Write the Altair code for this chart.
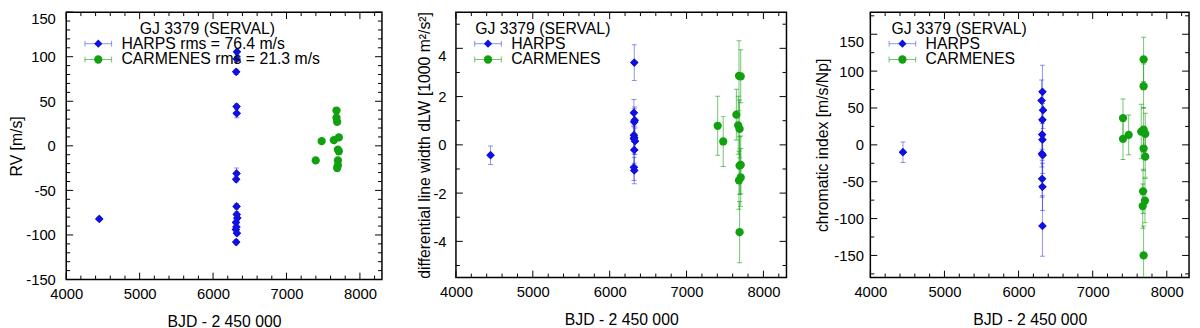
import altair as alt
import pandas as pd

FONT = "Liberation Sans"
BLUE = "#1010e0"
GREEN = "#10a010"

# ---------------- shared x axis ----------------
x_major = [4000, 5000, 6000, 7000, 8000]
x_minor = [4200, 4400, 4600, 4800, 5200, 5400, 5600, 5800, 6200, 6400, 6600, 6800,
           7200, 7400, 7600, 7800, 8200]
x_domain = [4000, 8300]
x_title = "BJD - 2 450 000"
legend_title = "GJ 3379 (SERVAL)"

# ---------------- panel 1: RV ----------------
rv_harps_t = [4450, 6325, 6322, 6315, 6320, 6322, 6320, 6315, 6320, 6322, 6330, 6312, 6318, 6310, 6325, 6315]
rv_harps_v = [-82, 105.5, 97.5, 83, 44, 36.5, -31, -37.5, -68, -77, -81, -86, -91, -94, -98, -108]
rv_harps_e = [2, 3, 3, 3, 3, 5, 6, 3, 3, 3, 3, 3, 3, 3, 3, 3]
rv_carm_t = [7398, 7479, 7681, 7681, 7690, 7646, 7713, 7700, 7713, 7700, 7700, 7690]
rv_carm_v = [-16.4, 5.3, 39.6, 31.6, 26.8, 6.4, 9.4, -4.2, -6.1, -16.4, -21.9, -24.9]
rv_carm_e = [2, 2, 2, 2, 2, 2, 2, 2, 2, 2, 2, 2]
rv_labels = ["HARPS rms = 76.4 m/s", "CARMENES rms = 21.3 m/s"]
rv_y_major = [-150, -100, -50, 0, 50, 100, 150]
rv_y_minor = [-140, -130, -120, -110, -90, -80, -70, -60, -40, -30, -20, -10,
              10, 20, 30, 40, 60, 70, 80, 90, 110, 120, 130, 140]

# ---------------- panel 2: dLW ----------------
dlw_harps_t = [4450, 6320, 6315, 6325, 6320, 6315, 6320, 6330, 6315, 6320, 6315, 6320]
dlw_harps_v = [-0.43, 3.41, 1.33, 1.02, 0.95, 0.40, 0.30, 0.15, 0.25, -0.21, -0.93, -1.06]
dlw_harps_e = [0.38, 0.74, 0.55, 0.55, 0.55, 0.55, 0.55, 0.55, 0.5, 0.55, 0.55, 0.55]
dlw_carm_t = [7405, 7477, 7648, 7682, 7705, 7672, 7690, 7690, 7705, 7705, 7682, 7690]
dlw_carm_v = [0.79, 0.14, 1.25, 2.86, 2.84, 0.81, 0.66, -0.86, -0.83, -1.35, -1.47, -3.62]
dlw_carm_e = [1.22, 1.04, 1.05, 1.45, 1.1, 1.2, 1.2, 1.2, 1.2, 1.2, 1.2, 1.27]
dlw_labels = ["HARPS", "CARMENES"]
dlw_y_major = [-4, -2, 0, 2, 4]
dlw_y_minor = [-5, -3, -1, 1, 3, 5]

# ---------------- panel 3: chromatic index ----------------
crx_harps_t = [4440, 6322, 6310, 6330, 6322, 6318, 6322, 6315, 6325, 6318, 6322, 6322]
crx_harps_v = [-10, 72, 60, 47, 34, 14, 7, -12, -14, -46, -57, -110]
crx_harps_e = [14, 36, 28, 25, 22, 20, 22, 18, 25, 25, 32, 41]
crx_carm_t = [7409, 7409, 7486, 7655, 7687, 7687, 7687, 7709, 7687, 7709, 7680, 7675, 7705, 7687]
crx_carm_v = [36.3, 8.2, 13.6, 18, 116, 79.5, 20.7, 15, -5, -16, -63, -83, -75.6, -150]
crx_carm_e = [26, 28, 27, 37, 30, 30, 30, 28, 30, 28, 30, 30, 30, 40]
crx_labels = ["HARPS", "CARMENES"]
crx_y_major = [-150, -100, -50, 0, 50, 100, 150]
crx_y_minor = [-175, -125, -75, -25, 25, 75, 125, 175]

LABEL_EXPR = "datum.value < 0 ? '-' + abs(datum.value) : '' + datum.value"


def make_df(t, v, e):
    df = pd.DataFrame({"t": t, "v": v, "e": e})
    df["lo"] = df["v"] - df["e"]
    df["hi"] = df["v"] + df["e"]
    return df


def panel(W, H, ydom, ymaj, ymin, ytitle, ylabpad, ytitlepad,
          harps, carm, labels, title_x):
    xs = alt.Scale(domain=x_domain, nice=False, zero=False)
    ys = alt.Scale(domain=ydom, nice=False, zero=False)
    xaxis = alt.Axis(values=x_major, title=x_title, ticks=False, domain=False, grid=False,
                     labelPadding=7, titlePadding=13, labelExpr=LABEL_EXPR,
                     labelFontSize=15, titleFontSize=16, labelFlush=False)
    yaxis = alt.Axis(values=ymaj, title=ytitle, ticks=False, domain=False, grid=False,
                     labelPadding=ylabpad, titlePadding=ytitlepad, labelExpr=LABEL_EXPR,
                     labelFontSize=15, titleFontSize=16, labelFlush=False,
                     labelBaseline={"condition": {"test": f"datum.value == {ymaj[-1]}",
                                                  "value": "top"},
                                    "value": "middle"})

    def X(f):
        return alt.X(f, scale=xs, axis=xaxis)

    def Y(f):
        return alt.Y(f, scale=ys, axis=yaxis)

    hdf = make_df(*harps)
    cdf = make_df(*carm)

    layers = []
    layers.append(alt.Chart(hdf).mark_point(shape="diamond", filled=True, color=BLUE,
                                            size=70, opacity=1).encode(x=X("t:Q"), y=Y("v:Q")))
    # inward ticks on all four sides
    for vals, L in ((x_major, 7), (x_minor, 4)):
        b = alt.Chart(pd.DataFrame({"t": vals})).mark_rule(color="black", strokeWidth=1)
        layers.append(b.encode(x=X("t:Q"), y=alt.value(H), y2=alt.value(H - L)))
        layers.append(b.encode(x=X("t:Q"), y=alt.value(0), y2=alt.value(L)))
    for vals, L in ((ymaj, 7), (ymin, 4)):
        b = alt.Chart(pd.DataFrame({"v": vals})).mark_rule(color="black", strokeWidth=1)
        layers.append(b.encode(y=Y("v:Q"), x=alt.value(0), x2=alt.value(L)))
        layers.append(b.encode(y=Y("v:Q"), x=alt.value(W), x2=alt.value(W - L)))

    # error bars
    for df, col, op in ((hdf, BLUE, 0.45), (cdf, GREEN, 0.6)):
        layers.append(alt.Chart(df).mark_rule(color=col, opacity=op, strokeWidth=1, clip=True).encode(
            x=X("t:Q"), y=Y("lo:Q"), y2="hi:Q"))
        for end in ("lo", "hi"):
            layers.append(alt.Chart(df).mark_tick(color=col, opacity=op, orient="horizontal",
                                                  size=5, thickness=1, clip=True).encode(
                x=X("t:Q"), y=Y(f"{end}:Q")))

    # points (drawn on top)
    layers.append(alt.Chart(cdf).mark_circle(color=GREEN, size=70, opacity=1).encode(
        x=X("t:Q"), y=Y("v:Q")))
    layers.append(alt.Chart(hdf).mark_point(shape="diamond", filled=True, color=BLUE,
                                            size=70, opacity=1).encode(x=X("t:Q"), y=Y("v:Q")))

    # legend
    layers.append(alt.Chart(pd.DataFrame({"label": [legend_title]})).mark_text(
        font=FONT, fontSize=16, align="center", baseline="middle", color="black").encode(
        x=alt.value(title_x), y=alt.value(17), text="label:N"))
    specs = [(BLUE, 0.45, "diamond", 70), (GREEN, 0.6, "circle", 70)]
    for i, (lab, (col, op, shp, sz)) in enumerate(zip(labels, specs)):
        ry = 32 + 16 * i
        ldf = pd.DataFrame({"label": [lab]})
        layers.append(alt.Chart(ldf).mark_rule(color=col, opacity=op, strokeWidth=1).encode(
            x=alt.value(19), x2=alt.value(46), y=alt.value(ry)))
        for cx in (19, 46):
            layers.append(alt.Chart(ldf).mark_rule(color=col, opacity=op, strokeWidth=1).encode(
                x=alt.value(cx), y=alt.value(ry - 3), y2=alt.value(ry + 3)))
        layers.append(alt.Chart(ldf).mark_point(shape=shp, filled=True, color=col, size=sz,
                                                opacity=1).encode(
            x=alt.value(32.5), y=alt.value(ry)))
        layers.append(alt.Chart(ldf).mark_text(font=FONT, fontSize=16, align="left",
                                               baseline="middle", color="black").encode(
            x=alt.value(56), y=alt.value(ry), text="label:N"))

    return alt.layer(*layers).properties(width=W, height=H)


p1 = panel(320, 271, [-150, 150], rv_y_major, rv_y_minor, "RV [m/s]", 11, 1,
           (rv_harps_t, rv_harps_v, rv_harps_e), (rv_carm_t, rv_carm_v, rv_carm_e),
           rv_labels, 143)
p2 = panel(335, 269, [-5.5, 5.5], dlw_y_major, dlw_y_minor,
           "differential line width dLW [1000 m²/s²]", 10, 0,
           (dlw_harps_t, dlw_harps_v, dlw_harps_e), (dlw_carm_t, dlw_carm_v, dlw_carm_e),
           dlw_labels, 88)
p3 = panel(323, 269, [-180, 180], crx_y_major, crx_y_minor, "chromatic index [m/s/Np]", 7, 3,
           (crx_harps_t, crx_harps_v, crx_harps_e), (crx_carm_t, crx_carm_v, crx_carm_e),
           crx_labels, 90)

chart = alt.hconcat(alt.hconcat(p1, p2, spacing=32), p3, spacing=26).properties(
    padding={"left": 0, "top": 0, "right": 1, "bottom": 0}
).configure_view(
    stroke="black", strokeWidth=1.5
).configure_axis(
    labelFont=FONT, titleFont=FONT, labelColor="black", titleColor="black",
    titleFontWeight="normal"
).configure_text(font=FONT)

chart.save("out.html", embed_options={"renderer": "svg", "actions": False})
